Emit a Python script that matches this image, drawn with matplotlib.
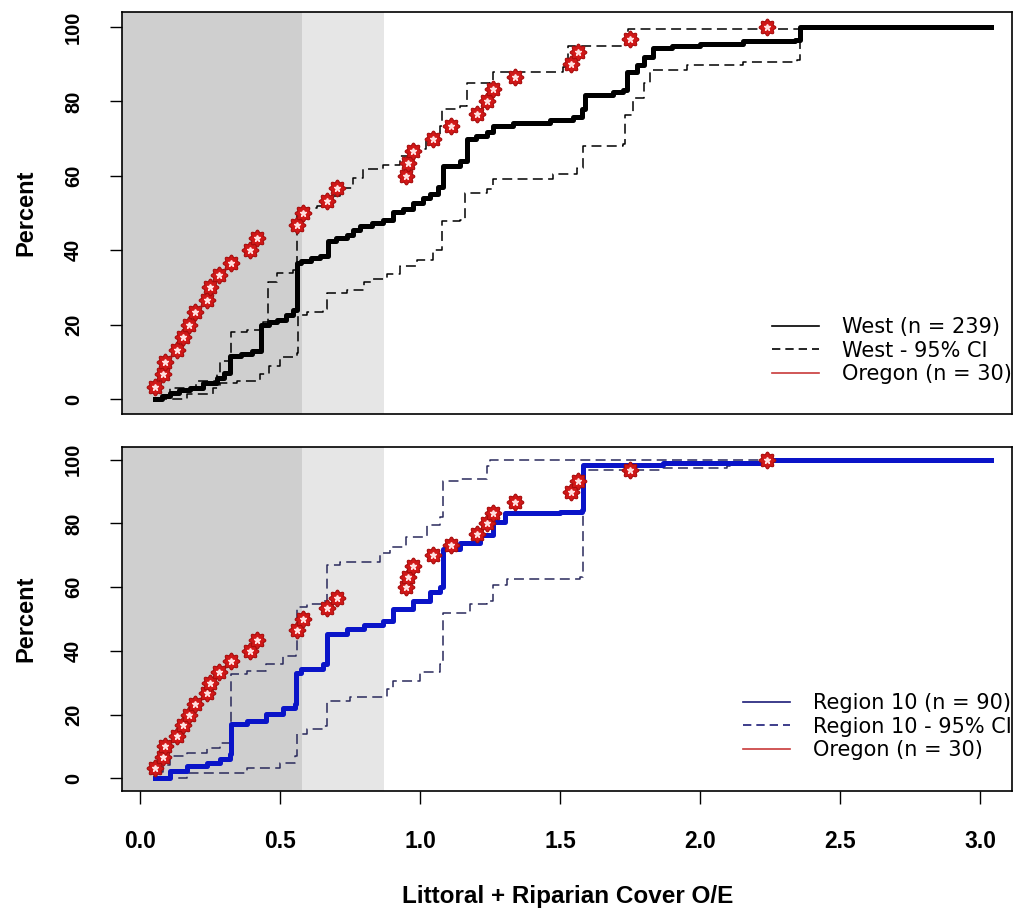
import numpy as np
import matplotlib.pyplot as plt
from matplotlib.lines import Line2D
from matplotlib.path import Path

plt.rcParams['font.family'] = ['Liberation Sans', 'DejaVu Sans']

# Oregon sites (n = 30), cumulative percent
oregon_x = [0.054, 0.083, 0.089, 0.133, 0.155, 0.176, 0.196, 0.238, 0.25, 0.283,
            0.325, 0.393, 0.417, 0.56, 0.581, 0.667, 0.705, 0.952, 0.959, 0.976,
            1.048, 1.11, 1.205, 1.238, 1.26, 1.339, 1.539, 1.564, 1.75, 2.238]
oregon_y = [100.0 * (i + 1) / 30 for i in range(30)]

# West CDF and 95% CI (step vertices)
west_x = [0.054, 0.08, 0.107, 0.14, 0.179, 0.225, 0.274, 0.30, 0.321, 0.36,
          0.40, 0.432, 0.46, 0.488, 0.52, 0.548, 0.56, 0.577, 0.61, 0.643,
          0.673, 0.70, 0.738, 0.76, 0.786, 0.83, 0.869, 0.905, 0.94, 0.976,
          1.01, 1.036, 1.066, 1.081, 1.143, 1.169, 1.20, 1.238, 1.262, 1.333,
          1.464, 1.548, 1.577, 1.589, 1.69, 1.726, 1.738, 1.774, 1.80, 1.833,
          1.90, 2.00, 2.154, 2.339, 2.357, 3.04]
west_y = [0, 0.8, 1.7, 2.4, 3.1, 4.4, 5.8, 7.0, 11.5, 12.0,
          12.8, 20.0, 20.6, 21.3, 22.6, 24.0, 36.5, 37.2, 37.8, 38.5,
          42.5, 43.2, 44.0, 45.4, 46.6, 47.4, 48.0, 50.2, 51.0, 52.7,
          54.0, 55.0, 57.0, 62.5, 64.0, 69.8, 70.8, 71.7, 73.5, 74.3,
          75.0, 75.8, 78.0, 81.7, 82.4, 83.0, 88.0, 89.8, 92.0, 94.3,
          95.0, 95.3, 96.1, 96.6, 100, 100]

west_hi_x = [0.054, 0.107, 0.20, 0.274, 0.286, 0.324, 0.381, 0.44, 0.458, 0.488,
             0.548, 0.56, 0.595, 0.631, 0.667, 0.714, 0.762, 0.798, 0.869, 0.929,
             0.97, 1.02, 1.071, 1.077, 1.143, 1.167, 1.25, 1.262, 1.512, 1.53,
             1.738, 1.744, 2.357, 3.04]
west_hi_y = [0, 3.1, 4.9, 6.7, 10.3, 18.0, 18.6, 20.7, 31.5, 33.8,
             34.7, 50.0, 51.4, 52.0, 54.6, 56.8, 59.5, 61.8, 62.9, 65.4,
             67.2, 70.0, 73.5, 78.0, 78.8, 84.8, 85.3, 88.0, 89.3, 94.8,
             95.3, 99.4, 100, 100]

west_lo_x = [0.06, 0.167, 0.262, 0.286, 0.345, 0.429, 0.46, 0.50, 0.56, 0.565,
             0.595, 0.655, 0.667, 0.738, 0.80, 0.833, 0.881, 0.929, 0.988, 1.048,
             1.077, 1.08, 1.143, 1.161, 1.238, 1.262, 1.476, 1.56, 1.583, 1.726,
             1.732, 1.762, 1.80, 1.821, 1.952, 2.155, 2.345, 2.357, 3.04]
west_lo_y = [0, 1.3, 3.1, 4.4, 4.9, 6.7, 9.0, 11.2, 12.5, 22.5,
             23.4, 24.3, 28.4, 29.3, 31.5, 32.4, 33.6, 35.8, 37.5, 40.1,
             41.9, 47.8, 48.2, 55.5, 56.4, 59.1, 60.4, 62.2, 68.1, 68.6,
             76.2, 80.8, 85.0, 88.4, 89.8, 90.7, 91.1, 100, 100]

# Region 10 CDF and 95% CI (step vertices)
r10_x = [0.054, 0.083, 0.107, 0.167, 0.238, 0.286, 0.321, 0.324, 0.381, 0.452,
         0.512, 0.554, 0.556, 0.577, 0.655, 0.667, 0.738, 0.80, 0.869, 0.905,
         0.976, 1.036, 1.071, 1.081, 1.143, 1.214, 1.262, 1.304, 1.50, 1.577,
         1.583, 1.869, 2.107, 2.226, 3.04]
r10_y = [0, 0, 2.2, 3.8, 4.8, 5.9, 7.5, 17.0, 18.0, 20.1,
         22.2, 23.2, 33.0, 34.3, 35.9, 45.3, 46.9, 48.0, 49.5, 53.0,
         55.8, 58.5, 60.0, 72.0, 74.0, 76.5, 80.5, 83.2, 83.7, 84.2,
         98.4, 98.9, 99.0, 100, 100]

r10_hi_x = [0.07, 0.083, 0.107, 0.167, 0.238, 0.286, 0.324, 0.381, 0.452, 0.512,
            0.556, 0.56, 0.595, 0.655, 0.667, 0.714, 0.857, 0.893, 0.952, 1.024,
            1.071, 1.081, 1.143, 1.238, 1.25, 3.04]
r10_hi_y = [2.0, 4.3, 6.9, 8.0, 9.6, 11.1, 32.7, 33.8, 35.9, 38.5,
            40.0, 53.7, 54.7, 55.8, 66.9, 67.9, 70.8, 72.6, 75.8, 79.5,
            82.0, 93.3, 94.0, 97.9, 100, 100]

r10_lo_x = [0.083, 0.167, 0.333, 0.381, 0.5, 0.554, 0.56, 0.595, 0.655, 0.667,
            0.75, 0.881, 0.905, 1.0, 1.071, 1.081, 1.179, 1.238, 1.262, 1.31,
            1.571, 1.583, 1.869, 2.095, 2.107, 2.24, 3.04]
r10_lo_y = [0, 1.7, 1.7, 3.2, 4.8, 6.9, 13.8, 15.3, 16.4, 24.3,
            25.5, 28.0, 30.6, 33.5, 35.9, 52.0, 54.7, 55.8, 60.6, 62.6,
            63.2, 96.8, 97.4, 97.9, 98.9, 100, 100]

yticks = [0, 20, 40, 60, 80, 100]
xticks = [0.0, 0.5, 1.0, 1.5, 2.0, 2.5, 3.0]

# gear-shaped marker for the Oregon points
th = np.linspace(0, 2 * np.pi, 161)
rr = 1 + 0.14 * np.cos(8 * th)
gear = Path(np.column_stack([rr * np.cos(th), rr * np.sin(th)]))

fig = plt.figure(figsize=(10.18, 9.16), dpi=100)
ax1 = fig.add_axes([0.1198, 0.548, 0.8743, 0.4389])
ax2 = fig.add_axes([0.1198, 0.1365, 0.8743, 0.3755])

red = '#d01818'
legend_font = {'family': ['DejaVu Sans'], 'size': 15}


def setup(ax):
    ax.axvspan(-1, 0.58, color='#cfcfcf', lw=0, zorder=0)
    ax.axvspan(0.58, 0.87, color='#e6e6e6', lw=0, zorder=0)
    ax.set_xlim(-0.064, 3.114)
    ax.set_ylim(-4, 104)
    ax.set_yticks(yticks)
    ax.set_yticklabels([str(t) for t in yticks], rotation=90, va='center',
                       fontsize=14.5, fontweight='bold')
    ax.tick_params(axis='both', direction='out', length=9, width=1, pad=19)
    for s in ax.spines.values():
        s.set_linewidth(1.2)
    ax.set_ylabel('Percent', fontsize=17, fontweight='bold')
    ax.yaxis.set_label_coords(-0.0955, 0.5)


def oregon(ax):
    ax.plot(oregon_x, oregon_y, ls='none', marker=gear, ms=12,
            mfc=red, mec='#a80c0c', mew=0.8, zorder=5)
    ax.plot(oregon_x, oregon_y, ls='none', marker='*', ms=4.5,
            color='#ffe0e0', zorder=6)


setup(ax1)
ax1.plot(west_x, west_y, drawstyle='steps-post', color='black', lw=3.6, zorder=3)
ax1.plot(west_hi_x, west_hi_y, drawstyle='steps-post', color='black', lw=1.1,
         dashes=(6.5, 3.5), zorder=2)
ax1.plot(west_lo_x, west_lo_y, drawstyle='steps-post', color='black', lw=1.1,
         dashes=(6.5, 3.5), zorder=2)
oregon(ax1)
ax1.set_xticks([])

h1 = [Line2D([], [], color='black', lw=1.2),
      Line2D([], [], color='black', lw=1.2, dashes=(5, 3)),
      Line2D([], [], color='#c83a3a', lw=1.2)]
ax1.legend(h1, ['West (n = 239)', 'West - 95% CI', 'Oregon (n = 30)'],
           loc='lower right', bbox_to_anchor=(1.0, 0.075), frameon=False,
           prop=legend_font, handlelength=2.26, handletextpad=1.1,
           labelspacing=0.16, borderpad=0, borderaxespad=0)

setup(ax2)
navy = '#2a2a5c'
ax2.plot(r10_x, r10_y, drawstyle='steps-post', color='#0a14c8', lw=3.6, zorder=3)
ax2.plot(r10_hi_x, r10_hi_y, drawstyle='steps-post', color=navy, lw=1.1,
         dashes=(6.5, 3.5), zorder=2)
ax2.plot(r10_lo_x, r10_lo_y, drawstyle='steps-post', color=navy, lw=1.1,
         dashes=(6.5, 3.5), zorder=2)
oregon(ax2)
ax2.set_xticks(xticks)
ax2.set_xticklabels(['%.1f' % t for t in xticks], fontsize=16.5, fontweight='bold')

h2 = [Line2D([], [], color='#1c1c78', lw=1.2),
      Line2D([], [], color='#1c1c78', lw=1.2, dashes=(5, 3)),
      Line2D([], [], color='#c83a3a', lw=1.2)]
ax2.legend(h2, ['Region 10 (n = 90)', 'Region 10 - 95% CI', 'Oregon (n = 30)'],
           loc='lower right', bbox_to_anchor=(1.0, 0.09), frameon=False,
           prop=legend_font, handlelength=2.26, handletextpad=1.1,
           labelspacing=0.16, borderpad=0, borderaxespad=0)

fig.text(0.558, 0.021, 'Littoral + Riparian Cover O/E', ha='center', va='center',
         fontsize=17.5, fontweight='bold')

fig.savefig('out.png', dpi=100)
